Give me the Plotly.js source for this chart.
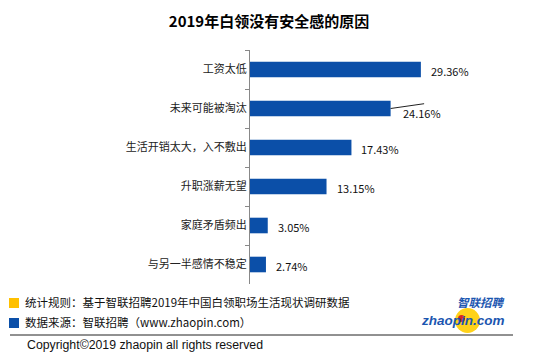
<!DOCTYPE html>
<html><head><meta charset="utf-8">
<script src="https://cdn.plot.ly/plotly-3.0.1.min.js"></script>
<style>html,body{margin:0;padding:0;background:#fff;}</style>
</head><body>
<div id="chart" style="width:554px;height:361px;"></div>
<script>
const categories = ["工资太低","未来可能被淘汰","生活开销太大，入不敷出","升职涨薪无望","家庭矛盾频出","与另一半感情不稳定"];
const values = [29.36, 24.16, 17.43, 13.15, 3.05, 2.74];
const valueLabels = ["29.36%","24.16%","17.43%","13.15%","3.05%","2.74%"];

const W = 554, H = 361;
const M = {l: 250, r: 13, t: 50, b: 77};
const pw = W - M.l - M.r, ph = H - M.t - M.b;
const px = x => (x - M.l) / pw;
const py = y => (H - M.b - y) / ph;
const cjk = '"Noto Sans CJK SC", "Noto Sans", sans-serif';
const blue = '#0b4fa8';

const annotations = values.map((v, i) => ({
  x: v, y: categories[i], xref: 'x', yref: 'y',
  text: valueLabels[i], showarrow: false, xanchor: 'left',
  xshift: i === 1 ? 10 : 8, yshift: i === 1 ? -4 : -1,
  font: {family: cjk, size: 11, color: '#111'}
}));
// leader line on the second label
annotations.push({x: values[1], y: categories[1], xref: 'x', yref: 'y', text: '',
  showarrow: true, arrowhead: 0, arrowwidth: 1, arrowcolor: '#222', ax: 35, ay: -5, standoff: 0});

annotations.push(
  {xref: 'paper', yref: 'paper', x: px(23), y: py(302), xanchor: 'left', yanchor: 'middle', showarrow: false,
   text: '统计规则：基于智联招聘2019年中国白领职场生活现状调研数据', font: {family: cjk, size: 11.5, color: '#111'}},
  {xref: 'paper', yref: 'paper', x: px(23), y: py(322), xanchor: 'left', yanchor: 'middle', showarrow: false,
   text: '数据来源：智联招聘（www.zhaopin.com）', font: {family: cjk, size: 11.5, color: '#111'}},
  {xref: 'paper', yref: 'paper', x: px(25), y: py(345), xanchor: 'left', yanchor: 'middle', showarrow: false,
   text: 'Copyright©2019 zhaopin all rights reserved', font: {family: '"Liberation Sans", Arial, sans-serif', size: 12.3, color: '#111'}},
  {xref: 'paper', yref: 'paper', x: px(506), y: py(302), xanchor: 'right', yanchor: 'middle', showarrow: false, borderpad: 0,
   text: '<b><i>智联招聘</i></b>', font: {family: cjk, size: 11.5, color: '#1b56b0'}},
  {xref: 'paper', yref: 'paper', x: px(506), y: py(320), xanchor: 'right', yanchor: 'middle', showarrow: false, borderpad: 0,
   text: '<b><i>zhaopin.com</i></b>', font: {family: '"Liberation Sans", Arial, sans-serif', size: 13.5, color: '#1b56b0'}}
);

const shapes = [
  {type: 'rect', xref: 'paper', yref: 'paper', x0: px(9), x1: px(19), y0: py(308), y1: py(298), fillcolor: '#ffc000', line: {width: 0}},
  {type: 'rect', xref: 'paper', yref: 'paper', x0: px(9), x1: px(19), y0: py(328), y1: py(318), fillcolor: blue, line: {width: 0}},
  {type: 'line', xref: 'paper', yref: 'paper', x0: px(10), x1: px(513), y0: py(335), y1: py(335), line: {color: '#222', width: 1}},
  {type: 'circle', xref: 'paper', yref: 'paper', x0: px(455), x1: px(480), y0: py(333), y1: py(308), fillcolor: '#ffd21a', line: {width: 0}, layer: 'below'},
  {type: 'circle', xref: 'paper', yref: 'paper', x0: px(458), x1: px(465), y0: py(322), y1: py(315), fillcolor: '#d8261c', line: {width: 0}}
];

Plotly.newPlot('chart', [{
  type: 'bar', orientation: 'h', x: values, y: categories,
  marker: {color: blue}, hoverinfo: 'none'
}], {
  width: W, height: H, margin: M,
  paper_bgcolor: '#fff', plot_bgcolor: '#fff',
  bargap: 0.6, showlegend: false,
  title: {text: '<b>2019年白领没有安全感的原因</b>', x: 269 / W, xanchor: 'center', y: 1 - 22 / H, yanchor: 'middle',
          font: {family: cjk, size: 15, color: '#000'}},
  xaxis: {range: [0, 50], visible: false, fixedrange: true},
  yaxis: {type: 'category', autorange: 'reversed', showline: true, linecolor: '#888', linewidth: 1,
          ticks: 'outside', tickson: 'boundaries', ticklen: 4, tickcolor: '#888', showgrid: false, zeroline: false,
          tickfont: {family: cjk, size: 11, color: '#222'}, fixedrange: true},
  annotations: annotations, shapes: shapes
}, {displayModeBar: false, staticPlot: true});
</script>
</body></html>
